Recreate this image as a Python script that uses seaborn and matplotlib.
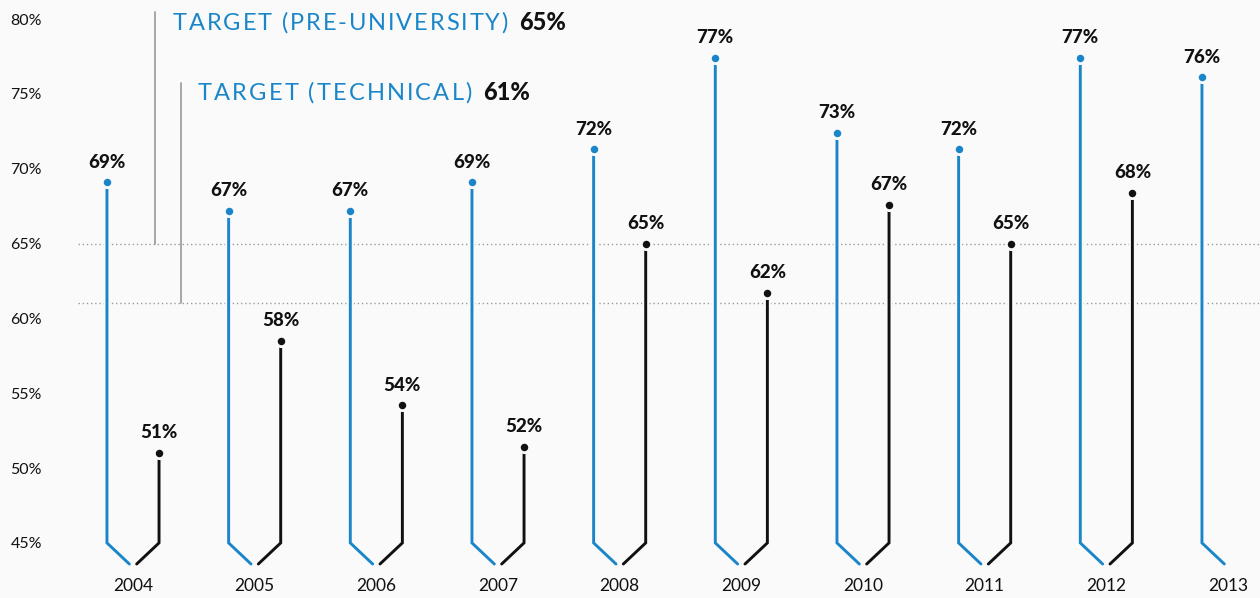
import matplotlib
matplotlib.use("Agg")
import matplotlib.pyplot as plt
import matplotlib.patheffects as pe
from matplotlib.transforms import IdentityTransform
from matplotlib.font_manager import FontProperties
import seaborn as sns
import pandas as pd
import numpy as np

years = ["2004", "2005", "2006", "2007", "2008", "2009", "2010", "2011", "2012", "2013"]
pre_university = [69.1, 67.2, 67.2, 69.1, 71.3, 77.4, 72.4, 71.3, 77.4, 76.1]
pre_labels = ["69%", "67%", "67%", "69%", "72%", "77%", "73%", "72%", "77%", "76%"]
technical = [51.0, 58.5, 54.2, 51.4, 65.0, 61.7, 67.6, 65.0, 68.4]
tech_labels = ["51%", "58%", "54%", "52%", "65%", "62%", "67%", "65%", "68%"]
target_pre = 65
target_tech = 61
target_pre_text = "TARGET (PRE-UNIVERSITY)"
target_tech_text = "TARGET (TECHNICAL)"
target_pre_label = "65%"
target_tech_label = "61%"
ytick_values = [45, 50, 55, 60, 65, 70, 75, 80]
ytick_labels = ["45%", "50%", "55%", "60%", "65%", "70%", "75%", "80%"]

sns.set_theme(style="white")
plt.rcParams["font.family"] = ["Lato", "DejaVu Sans"]

BLUE = "#1a86c9"
BLACK = "#111111"
BG = "#fafafa"
W, H = 1260, 598

fig = plt.figure(figsize=(12.6, 5.98), dpi=100, facecolor=BG)
ax = fig.add_axes([60 / W, 0, 1 - 60 / W, 1])
ax.set_facecolor(BG)

ax.set_xlim(-0.6, 9.263)
ax.set_ylim(41.32, 81.27)

off = 0.214
tip = 0.03
base = 45
bottom = 43.59
halo = [pe.Stroke(linewidth=5, foreground=BG), pe.Normal()]

# target dotted lines
for t in (target_pre, target_tech):
    ax.plot([-0.452, 9.4], [t, t], color="#9a9a9a", lw=1.0, ls=(0, (1, 2)), zorder=1)

# stems
for i, v in enumerate(pre_university):
    ax.plot([i - off, i - off, i - tip], [v, base, bottom], color=BLUE, lw=2.1,
            solid_joinstyle="miter", zorder=3, path_effects=halo)
for i, v in enumerate(technical):
    ax.plot([i + off, i + off, i + tip], [v, base, bottom], color=BLACK, lw=2.1,
            solid_joinstyle="miter", zorder=3, path_effects=halo)

df_pre = pd.DataFrame({"x": np.arange(len(years)) - off, "y": pre_university})
df_tech = pd.DataFrame({"x": np.arange(len(technical)) + off, "y": technical})
sns.scatterplot(data=df_pre, x="x", y="y", color=BLUE, s=55, edgecolor=BG, linewidth=2, zorder=4, ax=ax)
sns.scatterplot(data=df_tech, x="x", y="y", color=BLACK, s=55, edgecolor=BG, linewidth=2, zorder=4, ax=ax)

for i, (v, lab) in enumerate(zip(pre_university, pre_labels)):
    ax.annotate(lab, (i - off, v), xytext=(0, 14.5), textcoords="offset points",
                ha="center", va="center", fontsize=13.5, fontweight="black", color=BLACK)
for i, (v, lab) in enumerate(zip(technical, tech_labels)):
    ax.annotate(lab, (i + off, v), xytext=(0, 14.5), textcoords="offset points",
                ha="center", va="center", fontsize=13.5, fontweight="black", color=BLACK)

# year labels
for i, y in enumerate(years):
    ax.text(i, 42.15, y, ha="center", va="center", fontsize=12.5, color=BLACK)

# target annotations
x1 = (155 - 133) / 121.67
x2 = (181 - 133) / 121.67
ax.plot([x1, x1], [80.5, target_pre], color="#a0a0a0", lw=1.3, zorder=2)
ax.plot([x2, x2], [75.7, target_tech], color="#a0a0a0", lw=1.3, zorder=2)

fig.canvas.draw()
renderer = fig.canvas.get_renderer()


def text_width(s, prop):
    wI, _, _ = renderer.get_text_width_height_descent("I", prop, ismath=False)
    w, _, _ = renderer.get_text_width_height_descent(s + "I", prop, ismath=False)
    return w - wI


def spaced_text(s, x0, x1, baseline_px, size, color):
    """Letter-spaced text spanning pixel x0..x1."""
    prop = FontProperties(family=["Lato", "DejaVu Sans"], size=size)
    natural = text_width(s, prop)
    spacing = (x1 - x0 - natural) / max(len(s) - 1, 1)
    for k, ch in enumerate(s):
        if ch == " ":
            continue
        px = x0 + text_width(s[:k], prop) + k * spacing
        fig.text(px, H - baseline_px, ch, transform=IdentityTransform(), ha="left",
                 va="baseline", fontproperties=prop, color=color)


spaced_text(target_pre_text, 173, 508, 29.5, 17, BLUE)
spaced_text(target_tech_text, 198, 472, 99.5, 17, BLUE)
fig.text(519, H - 29.5, target_pre_label, transform=IdentityTransform(), ha="left",
         va="baseline", fontsize=17, fontweight="black", color=BLACK)
fig.text(483, H - 99.5, target_tech_label, transform=IdentityTransform(), ha="left",
         va="baseline", fontsize=17, fontweight="black", color=BLACK)

ax.set_xticks([])
ax.set_yticks(ytick_values)
ax.set_yticklabels(ytick_labels, fontsize=11.5, color=BLACK)
ax.tick_params(axis="y", length=0, pad=13)
ax.set_xlabel("")
ax.set_ylabel("")
for s in ax.spines.values():
    s.set_visible(False)

fig.savefig("out.png", dpi=100, facecolor=BG)
